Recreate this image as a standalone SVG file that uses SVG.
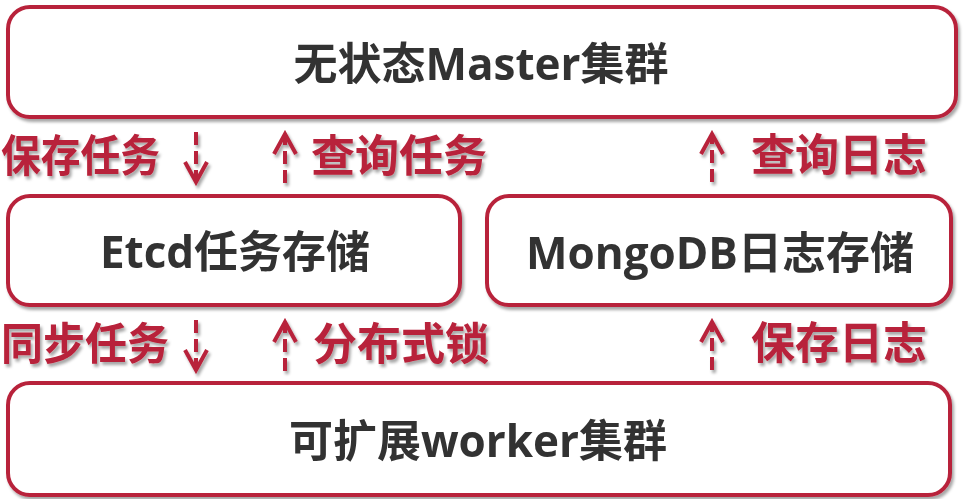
<svg xmlns="http://www.w3.org/2000/svg" width="965" height="499" viewBox="0 0 965 499">
<style>
.box{fill:#ffffff;stroke:#b8233a;stroke-width:4}
.title{font-family:"Open Sans","Noto Sans CJK SC",sans-serif;font-weight:bold;font-size:44px;fill:#333333;text-anchor:middle}
.lbl{font-family:"Noto Sans CJK SC",sans-serif;font-weight:bold;font-size:44px;fill:#b8233a}
.shaft{fill:none;stroke:#b8233a;stroke-width:4;stroke-dasharray:13 6}
</style>
<defs>
<filter id="sh" x="-10%" y="-10%" width="120%" height="130%">
<feDropShadow dx="2" dy="3" stdDeviation="1.6" flood-color="#000" flood-opacity="0.35"/>
</filter>
<marker id="chev" viewBox="-24 -14 28 28" markerWidth="28" markerHeight="28" refX="0" refY="0" orient="auto" markerUnits="userSpaceOnUse">
<path d="M-20,-11 L0,0 L-20,11" fill="none" stroke="#b8233a" stroke-width="4" stroke-linejoin="miter"/>
</marker>
</defs>
<rect width="965" height="499" fill="#ffffff"/>
<g id="master" filter="url(#sh)">
<rect class="box" x="8" y="7" width="948" height="110" rx="22"/>
<text class="title" x="481" y="80">无状态Master集群</text>
</g>
<g id="etcd" filter="url(#sh)">
<rect class="box" x="8" y="196" width="452" height="109" rx="22"/>
<text class="title" x="235" y="268">Etcd任务存储</text>
</g>
<g id="mongodb" filter="url(#sh)">
<rect class="box" x="487" y="196" width="464" height="109" rx="22"/>
<text class="title" x="720" y="269">MongoDB日志存储</text>
</g>
<g id="worker" filter="url(#sh)">
<rect class="box" x="8" y="383" width="942" height="112" rx="22"/>
<text class="title" x="478" y="457">可扩展worker集群</text>
</g>
<g id="connectors" filter="url(#sh)">
<path class="shaft" d="M196,132 L196,182" marker-end="url(#chev)"/>
<path class="shaft" d="M285,183 L285,134" marker-end="url(#chev)"/>
<path class="shaft" d="M712,182 L712,134" marker-end="url(#chev)"/>
<path class="shaft" d="M196,320 L196,370" marker-end="url(#chev)"/>
<path class="shaft" d="M285,371 L285,322" marker-end="url(#chev)"/>
<path class="shaft" d="M712,370 L712,322" marker-end="url(#chev)"/>
<text class="lbl" x="1" y="172" textLength="159" lengthAdjust="spacingAndGlyphs">保存任务</text>
<text class="lbl" x="311" y="172">查询任务</text>
<text class="lbl" x="751" y="171">查询日志</text>
<text class="lbl" x="1" y="360" textLength="168" lengthAdjust="spacingAndGlyphs">同步任务</text>
<text class="lbl" x="313" y="360">分布式锁</text>
<text class="lbl" x="751" y="359">保存日志</text>
</g>
</svg>
